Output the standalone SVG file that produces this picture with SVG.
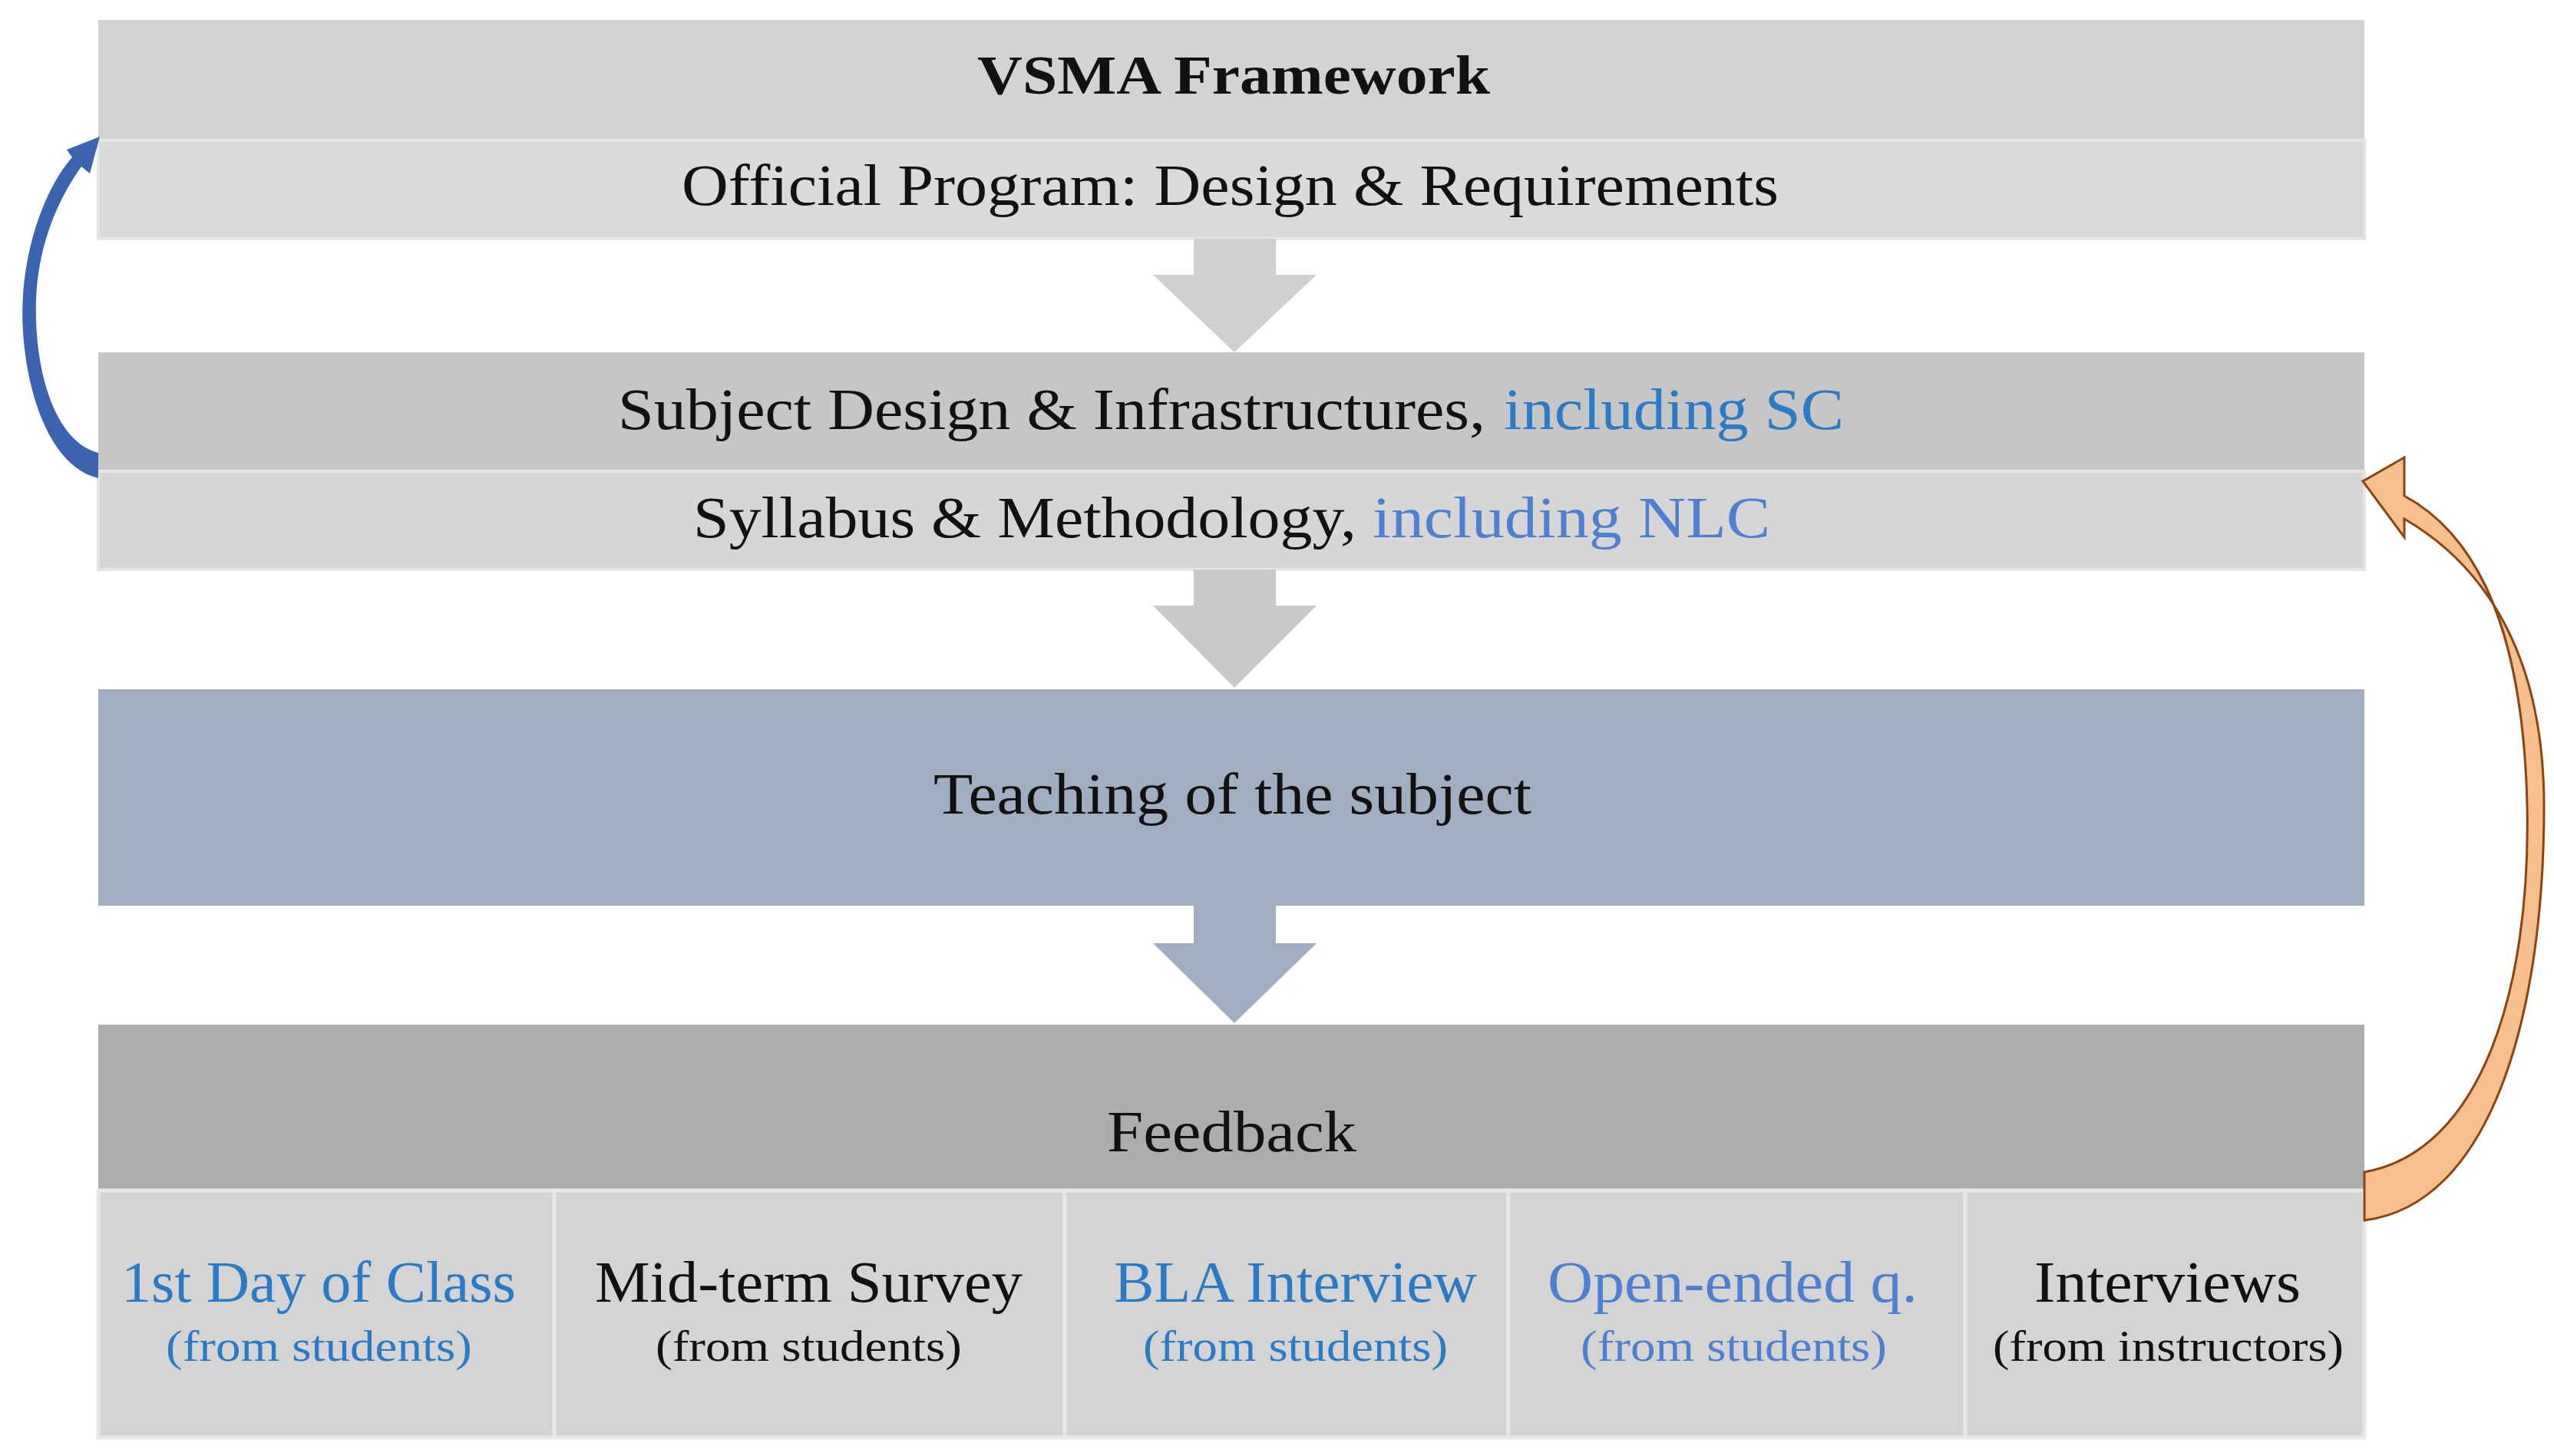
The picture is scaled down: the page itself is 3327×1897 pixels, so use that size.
<svg xmlns="http://www.w3.org/2000/svg" width="3327" height="1897" viewBox="0 0 3327 1897">
<style>
text{font-family:"Liberation Serif","DejaVu Serif",serif;text-anchor:start;fill:#111}
.m{font-size:76px}
.s{font-size:58px}
.b{fill:#2a7bc4}
.b2{fill:#4f7fcf}
.cell{fill:#d4d4d4;stroke:#e8e8e8;stroke-width:5}
</style>
<rect width="3327" height="1897" fill="#fff"/>
<g transform="translate(-8,0)">
<g id="header"><rect x="136" y="26" width="2952" height="157" fill="#d3d3d3"/>
<text x="1281" y="122" font-weight="bold" font-size="72" textLength="668" lengthAdjust="spacingAndGlyphs">VSMA Framework</text></g>
<g id="official"><rect x="136" y="183" width="2952" height="128" fill="#dadada" stroke="#e6e6e6" stroke-width="4"/>
<text class="m" x="896" y="267" textLength="1429" lengthAdjust="spacingAndGlyphs">Official Program: Design &amp; Requirements</text></g>
<g id="subject"><rect x="136" y="459" width="2952" height="155" fill="#c6c6c6"/>
<text class="m" x="813" y="559" textLength="1130" lengthAdjust="spacingAndGlyphs">Subject Design &amp; Infrastructures,</text>
<text class="m b" x="1967" y="559" textLength="443" lengthAdjust="spacingAndGlyphs">including SC</text></g>
<g id="syllabus"><rect x="136" y="614" width="2952" height="128" fill="#d6d6d6" stroke="#e6e6e6" stroke-width="4"/>
<text class="m" x="911" y="700" textLength="864" lengthAdjust="spacingAndGlyphs">Syllabus &amp; Methodology,</text>
<text class="m b2" x="1796" y="700" textLength="518" lengthAdjust="spacingAndGlyphs">including NLC</text></g>
<g id="teaching"><rect x="136" y="898" width="2952" height="282" fill="#a1aec1"/>
<text class="m" x="1224" y="1060" textLength="779" lengthAdjust="spacingAndGlyphs">Teaching of the subject</text></g>
<g id="feedback"><rect x="136" y="1335" width="2952" height="216" fill="#adadad"/>
<text class="m" x="1450" y="1500" textLength="325" lengthAdjust="spacingAndGlyphs">Feedback</text></g>
<g id="cell1"><rect class="cell" x="136" y="1551" width="594" height="322"/>
<text class="m b" x="166" y="1696" textLength="514" lengthAdjust="spacingAndGlyphs">1st Day of Class</text>
<text class="s b" x="224" y="1773" textLength="399" lengthAdjust="spacingAndGlyphs">(from students)</text></g>
<g id="cell2"><rect class="cell" x="730" y="1551" width="665" height="322"/>
<text class="m" x="783" y="1696" textLength="557" lengthAdjust="spacingAndGlyphs">Mid-term Survey</text>
<text class="s" x="862" y="1773" textLength="399" lengthAdjust="spacingAndGlyphs">(from students)</text></g>
<g id="cell3"><rect class="cell" x="1395" y="1551" width="578" height="322"/>
<text class="m b" x="1459" y="1696" textLength="473" lengthAdjust="spacingAndGlyphs">BLA Interview</text>
<text class="s b" x="1497" y="1773" textLength="397" lengthAdjust="spacingAndGlyphs">(from students)</text></g>
<g id="cell4"><rect class="cell" x="1973" y="1551" width="595" height="322"/>
<text class="m b2" x="2024" y="1696" textLength="482" lengthAdjust="spacingAndGlyphs">Open-ended q.</text>
<text class="s b2" x="2067" y="1773" textLength="399" lengthAdjust="spacingAndGlyphs">(from students)</text></g>
<g id="cell5"><rect class="cell" x="2568" y="1551" width="520" height="322"/>
<text class="m" x="2658" y="1696" textLength="347" lengthAdjust="spacingAndGlyphs">Interviews</text>
<text class="s" x="2604" y="1773" textLength="457" lengthAdjust="spacingAndGlyphs">(from instructors)</text></g>
<g id="connectors">
<polygon points="1563,311 1670,311 1670,358 1723,358 1616,459 1510,358 1563,358" fill="#d0d0d0"/>
<polygon points="1563,742 1670,742 1670,789 1723,789 1616,896 1510,789 1563,789" fill="#c9c9c9"/>
<polygon points="1563,1180 1670,1180 1670,1229 1723,1229 1616,1333 1510,1229 1563,1229" fill="#a1aec1"/>
<path d="M136,623 C60,605 32,470 38,385 C44,300 75,235 102,205 L95,195 L138,178 L125,226 L114,217 C82,262 58,320 55,390 C52,480 78,575 136,590 Z" fill="#3a64b0"/>
<path d="M3088,1527 C3240,1500 3305,1290 3300,1050 C3295,830 3240,700 3140,646 L3140,596 L3086,627 L3140,700 L3140,676 C3250,740 3322,860 3322,1050 C3322,1330 3250,1570 3088,1590 Z" fill="#f6c08e" stroke="#8b4513" stroke-width="3"/>
</g>
</g>
</svg>
